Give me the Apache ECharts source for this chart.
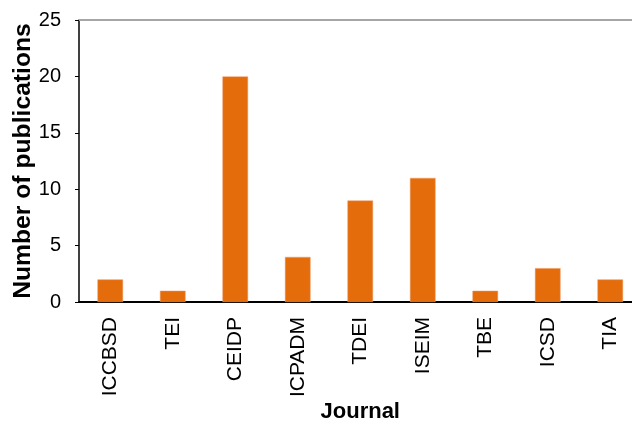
<!DOCTYPE html>
<html>
<head>
<meta charset="utf-8">
<script src="https://cdn.jsdelivr.net/npm/echarts@6/dist/echarts.min.js"></script>
<style>
html,body{margin:0;padding:0;background:#fff;}
#chart{width:632px;height:424px;}
</style>
</head>
<body>
<div id="chart"></div>
<script>
const categories = ['ICCBSD','TEI','CEIDP','ICPADM','TDEI','ISEIM','TBE','ICSD','TIA'];
const publications = [2,1,20,4,9,11,1,3,2];
const yTicks = {min:0, max:25, interval:5};

const font = "'Liberation Sans', Arial, sans-serif";
const chart = echarts.init(document.getElementById('chart'), null, {renderer:'canvas'});
chart.setOption({
  animation:false,
  backgroundColor:'#ffffff',
  textStyle:{fontFamily:font},
  grid:{left:79, top:20, right:-9.5, bottom:122, containLabel:false, outerBoundsMode:'none'},
  xAxis:[{
    type:'category',
    data:categories,
    position:'bottom',
    name:'Journal',
    nameLocation:'middle',
    nameGap:99,
    nameMoveOverlap:false,
    nameTextStyle:{fontFamily:font, fontSize:22, fontWeight:'bold', color:'#000'},
    axisLine:{lineStyle:{color:'#000', width:2}},
    axisTick:{inside:true, length:7, lineStyle:{color:'#808080', width:1}},
    axisLabel:{rotate:90, fontFamily:font, fontSize:21, color:'#000', margin:15, interval:0},
    splitLine:{show:false}
  },{
    type:'category',
    data:categories,
    position:'top',
    axisLine:{lineStyle:{color:'#a6a6a6', width:2}},
    axisTick:{show:false},
    axisLabel:{show:false},
    splitLine:{show:false}
  }],
  yAxis:{
    type:'value',
    min:yTicks.min, max:yTicks.max, interval:yTicks.interval,
    name:'Number of publications',
    nameLocation:'middle',
    nameGap:43,
    nameMoveOverlap:false,
    nameTextStyle:{fontFamily:font, fontSize:24.7, fontWeight:'bold', color:'#000'},
    axisLine:{show:true, lineStyle:{color:'#000', width:1.5}},
    axisTick:{show:true, length:4, lineStyle:{color:'#000', width:1}},
    axisLabel:{fontFamily:font, fontSize:20, color:'#000', margin:18},
    splitLine:{show:false}
  },
  series:[{
    type:'bar',
    data:publications,
    xAxisIndex:0,
    barWidth:'41%',
    itemStyle:{color:'#E46C0A', borderColor:'#F0A070', borderWidth:0.5}
  }]
});
</script>
</body>
</html>
